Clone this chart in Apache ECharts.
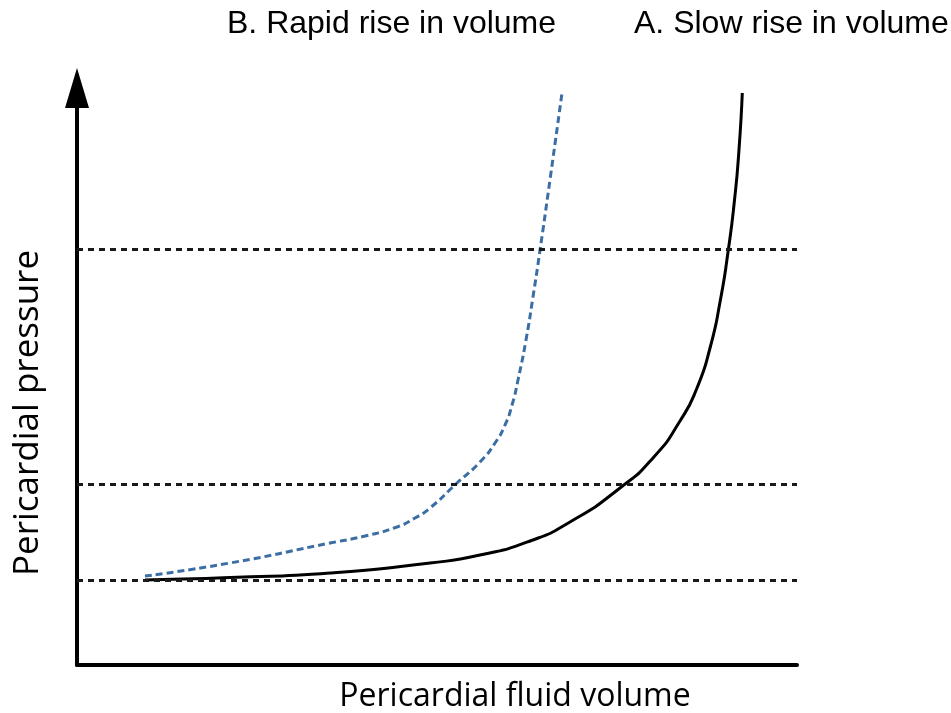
<!DOCTYPE html>
<html>
<head>
<meta charset="utf-8">
<script src="https://cdn.jsdelivr.net/npm/echarts@6/dist/echarts.min.js"></script>
<style>
html,body{margin:0;padding:0;background:#fff;}
#chart{width:951px;height:713px;}
</style>
</head>
<body>
<div id="chart"></div>
<script>
// Curve A: slow rise in volume (solid black)
const slowVolume   = [9.44, 21.25, 35.14, 49.03, 55.97, 62.92, 68.47, 75.42, 80.0, 83.75, 86.11, 87.92, 89.31, 90.42, 91.32, 91.94, 92.40];
const slowPressure = [14.73, 15.16, 15.94, 17.68, 19.06, 21.49, 24.78, 30.68, 35.88, 42.29, 48.01, 54.94, 62.91, 71.58, 80.59, 89.25, 99.13];
// Curve B: rapid rise in volume (dashed blue)
const rapidVolume   = [9.44, 21.25, 35.14, 39.72, 44.44, 46.94, 49.03, 52.78, 55.97, 58.06, 59.44, 60.42, 61.25, 62.36, 63.33, 64.31, 65.69, 67.36];
const rapidPressure = [15.42, 17.68, 21.14, 22.27, 23.92, 25.48, 27.21, 31.54, 35.18, 38.47, 41.59, 45.06, 49.39, 56.33, 63.78, 71.92, 84.06, 99.13];
// Horizontal dotted reference levels
const levels = [14.7, 31.4, 72.1];
const titleB = 'B. Rapid rise in volume';
const titleA = 'A. Slow rise in volume';
const xName = 'Pericardial fluid volume';
const yName = 'Pericardial pressure';

const slowData = slowVolume.map((v, i) => [v, slowPressure[i]]);
const rapidData = rapidVolume.map((v, i) => [v, rapidPressure[i]]);

const chart = echarts.init(document.getElementById('chart'), null, {renderer: 'canvas'});
chart.setOption({
  animation: false,
  grid: {left: 77, right: 154, top: 88, bottom: 48, containLabel: false},
  xAxis: {
    type: 'value', min: 0, max: 100,
    axisLine: {show: true, lineStyle: {color: '#000', width: 4}},
    axisTick: {show: false}, axisLabel: {show: false}, splitLine: {show: false}
  },
  yAxis: {
    type: 'value', min: 0, max: 100,
    axisLine: {show: true, symbol: ['none', 'triangle'], symbolSize: [24, 40], lineStyle: {color: '#000', width: 4}},
    axisTick: {show: false}, axisLabel: {show: false}, splitLine: {show: false}
  },
  series: [
    {
      type: 'line', data: [], silent: true,
      markLine: {
        silent: true, symbol: ['none', 'none'],
        label: {show: false},
        lineStyle: {color: '#1a1a1a', width: 3, type: [6, 5]},
        data: levels.map(l => ({yAxis: l}))
      }
    },
    {
      type: 'line', data: rapidData, smooth: 0.6, showSymbol: false,
      lineStyle: {color: '#3a6ea5', width: 3, type: [7, 4]}
    },
    {
      type: 'line', data: slowData, smooth: 0.6, showSymbol: false,
      lineStyle: {color: '#000', width: 3}
    }
  ],
  graphic: [
    {type: 'text', x: 227, y: 24, style: {text: titleB, font: '32px "Liberation Sans", Arial, sans-serif', fill: '#000', align: 'left', verticalAlign: 'middle'}},
    {type: 'text', x: 634, y: 24, style: {text: titleA, font: '32px "Liberation Sans", Arial, sans-serif', fill: '#000', align: 'left', verticalAlign: 'middle'}},
    {type: 'text', x: 515, y: 697, style: {text: xName, font: '32px "Open Sans", sans-serif', fill: '#000', align: 'center', verticalAlign: 'middle'}},
    {type: 'text', x: 28, y: 413, rotation: Math.PI / 2, style: {text: yName, font: '35px "Open Sans", sans-serif', fill: '#000', align: 'center', verticalAlign: 'middle'}}
  ]
});
</script>
</body>
</html>
